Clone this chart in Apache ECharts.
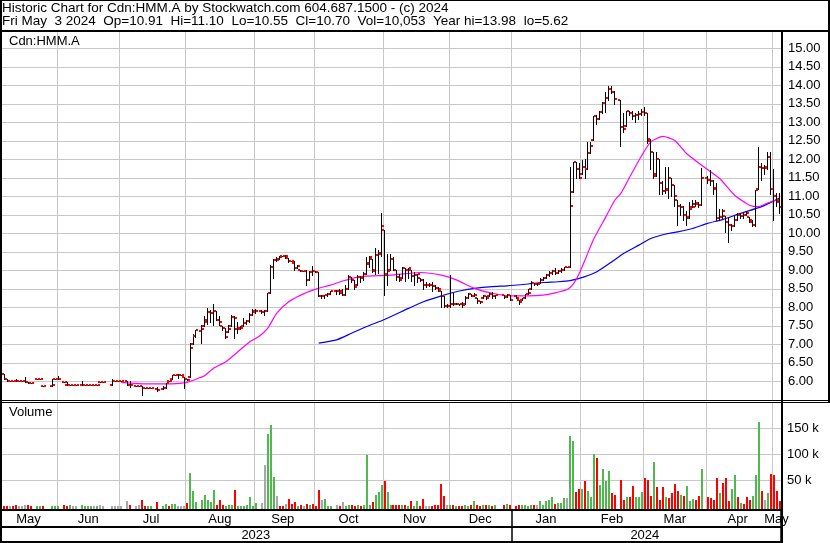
<!DOCTYPE html>
<html>
<head>
<meta charset="utf-8">
<title>Historic Chart for Cdn:HMM.A</title>
<script src="https://cdn.jsdelivr.net/npm/echarts@6/dist/echarts.min.js"></script>
<style>
  html, body { margin: 0; padding: 0; background: #fff; }
  #chart { width: 830px; height: 543px; }
</style>
</head>
<body>
<div id="chart"></div>
<script>
// daily bars [open, high, low, close], one slot per weekday, null = no trade / holiday
const may23 = [[6.20,6.20,6.20,6.20],[6.20,6.20,6.05,6.05],[6.05,6.05,6.02,6.02],[6.02,6.02,6.02,6.02],[6.02,6.02,6.00,6.00],
  [6.00,6.05,6.00,6.00],[6.00,6.00,6.00,6.00],[6.00,6.00,6.00,6.00],[6.00,6.13,5.97,5.97],[5.97,5.97,5.95,5.95],
  [5.95,5.95,5.95,5.95],null,[6.05,6.05,6.05,6.05],[6.05,6.05,6.05,6.05],[5.86,5.86,5.86,5.86],
  null,null,[5.86,6.05,5.86,5.90],[6.05,6.05,6.05,6.05]]
const jun23 = [[6.05,6.15,6.05,6.05],null,[5.97,5.97,5.97,5.97],[5.89,5.97,5.89,5.89],[5.89,5.89,5.89,5.89],
  [5.89,5.89,5.89,5.89],[5.89,5.89,5.89,5.89],null,[5.89,6.00,5.89,5.90],[5.90,5.90,5.90,5.90],
  [5.90,5.90,5.90,5.90],[5.90,5.90,5.90,5.90],[5.90,5.90,5.90,5.90],[5.90,5.90,5.90,5.90],[5.97,5.97,5.97,5.97],
  [5.97,5.97,5.97,5.97],null,null,[5.90,6.05,5.90,6.00],[6.00,6.00,6.00,6.00],
  [6.00,6.00,6.00,6.00],[6.00,6.00,6.00,6.00]]
const jul23 = [null,[6.00,6.00,5.90,5.90],[5.90,6.00,5.85,5.90],null,[5.88,5.88,5.88,5.88],
  [5.88,5.88,5.88,5.88],[5.88,5.88,5.62,5.82],[5.82,5.82,5.82,5.82],[5.82,5.82,5.82,5.82],[5.82,5.82,5.82,5.82],
  null,[5.78,5.85,5.75,5.77],null,[5.80,5.87,5.80,5.82],[5.82,5.95,5.82,5.95],
  [6.00,6.00,6.00,6.00],[6.05,6.17,6.05,6.17],[6.17,6.17,6.17,6.17],[6.17,6.20,6.10,6.17],[6.17,6.17,6.17,6.17],
  [6.13,6.13,5.83,6.05]]
const aug23 = [[6.05,6.05,6.04,6.04],[6.12,7.04,6.12,6.90],[7.00,7.28,7.00,7.23],[7.23,7.39,7.20,7.39],null,
  [7.36,7.52,7.04,7.42],[7.50,7.76,7.50,7.66],[7.60,7.98,7.54,7.88],[7.88,7.93,7.60,7.85],[7.85,8.09,7.53,7.90],
  [7.90,7.90,7.66,7.66],[7.66,7.76,7.53,7.60],[7.50,7.50,7.40,7.44],[7.44,7.45,7.17,7.20],[7.33,7.52,7.33,7.42],
  [7.50,7.79,7.50,7.74],[7.74,7.77,7.17,7.70],[7.42,7.60,7.30,7.42],[7.45,7.50,7.42,7.45],[7.50,7.70,7.50,7.58],
  [7.58,7.66,7.55,7.62],[7.62,7.84,7.60,7.80],[7.80,7.95,7.80,7.91]]
const sep23 = [[7.88,7.95,7.85,7.90],null,[7.90,7.92,7.85,7.88],[7.88,7.92,7.80,7.90],[7.90,8.39,7.90,8.39],
  [8.39,9.14,8.39,9.10],[9.10,9.30,8.80,9.28],[9.28,9.35,9.25,9.28],[9.30,9.40,9.30,9.37],[9.38,9.38,9.38,9.38],
  [9.38,9.42,9.33,9.38],[9.33,9.33,9.22,9.25],[9.25,9.25,9.25,9.25],[9.20,9.25,9.00,9.06],[9.06,9.15,9.06,9.12],
  [9.00,9.00,8.99,8.99],[8.99,8.99,8.99,8.99],[8.99,9.00,8.60,8.74],[8.74,8.97,8.74,8.95],[8.95,9.12,8.87,8.99],
  [8.99,8.99,8.95,8.95]]
const oct23 = [[8.95,8.95,8.30,8.30],[8.30,8.32,8.25,8.30],[8.30,8.32,8.24,8.32],[8.32,8.40,8.30,8.35],[8.35,8.45,8.35,8.43],
  null,[8.43,8.48,8.37,8.43],[8.43,8.50,8.35,8.40],[8.45,8.50,8.33,8.33],[8.33,8.60,8.33,8.50],
  [8.50,8.87,8.50,8.81],[8.81,8.81,8.68,8.73],[8.73,8.73,8.50,8.55],[8.60,8.87,8.60,8.81],[8.81,8.85,8.68,8.78],
  [8.81,8.95,8.75,8.91],[8.91,9.35,8.90,9.16],[9.20,9.40,9.10,9.35],[9.30,9.30,8.95,8.97],[9.00,9.60,8.90,9.41],
  [9.41,9.55,8.92,9.45],[9.46,10.55,9.40,10.19]]
const nov23 = [[10.10,10.10,8.33,8.87],[8.90,9.45,8.60,8.98],[9.00,9.45,9.00,9.30],[9.30,9.37,9.00,9.00],[9.00,9.00,8.75,8.82],
  [8.82,8.90,8.70,8.75],[8.80,9.10,8.80,9.05],[9.05,9.07,8.70,9.00],[9.00,9.05,8.80,9.05],[9.00,9.00,8.70,8.84],
  [8.84,8.95,8.60,8.88],[8.88,8.90,8.68,8.90],[8.80,8.80,8.70,8.73],[8.73,8.77,8.50,8.61],[8.61,8.68,8.55,8.61],
  [8.61,8.66,8.58,8.61],[8.61,8.68,8.45,8.57],[8.57,8.60,8.50,8.53],[8.53,8.55,8.45,8.50],[8.45,8.45,8.00,8.30],
  [8.30,8.30,8.00,8.04],[8.04,8.10,8.00,8.04]]
const dec23 = [[8.04,8.87,8.00,8.10],[8.10,8.40,8.05,8.08],[8.08,8.12,8.08,8.10],[8.10,8.10,8.06,8.08],[8.08,8.15,8.00,8.05],
  [8.10,8.30,8.10,8.25],[8.25,8.40,8.25,8.37],[8.37,8.37,8.30,8.30],[8.30,8.40,8.30,8.33],[8.25,8.25,8.12,8.17],
  [8.17,8.17,8.12,8.15],[8.25,8.33,8.25,8.30],[8.30,8.30,8.22,8.25],[8.30,8.40,8.30,8.37],[8.37,8.42,8.25,8.30],
  [8.30,8.33,8.25,8.32],null,null,[8.32,8.32,8.25,8.28],[8.28,8.35,8.28,8.33],
  [8.33,8.33,8.20,8.20]]
const jan24 = [null,[8.30,8.33,8.25,8.25],[8.20,8.20,8.10,8.13],[8.20,8.25,8.20,8.25],[8.25,8.37,8.25,8.37],
  [8.37,8.50,8.35,8.40],[8.50,8.70,8.50,8.66],[8.66,8.66,8.60,8.63],[8.63,8.66,8.60,8.63],[8.66,8.80,8.66,8.73],
  [8.75,8.82,8.75,8.80],[8.80,8.90,8.80,8.86],[8.86,8.97,8.85,8.93],[8.93,9.00,8.90,8.97],[8.97,9.05,8.90,8.93],
  [8.93,9.00,8.93,8.97],[8.97,9.05,8.95,9.02],[9.02,9.10,9.00,9.08],[9.08,9.10,9.08,9.08],[9.10,11.80,9.10,10.75],
  [11.12,11.93,11.12,11.93],[11.93,11.93,11.50,11.75],[11.75,11.90,11.50,11.50]]
const feb24 = [[11.60,11.98,11.60,11.80],[11.80,12.00,11.50,11.75],[11.75,12.47,11.75,12.16],[12.16,12.47,12.16,12.36],[12.53,13.16,12.53,13.16],
  [13.16,13.20,12.95,13.10],[13.10,13.30,13.10,13.27],[13.27,13.55,13.25,13.52],[13.52,13.82,13.28,13.65],[13.65,13.98,13.60,13.90],
  [13.90,13.98,13.80,13.82],[13.82,13.85,13.50,13.62],null,[13.60,13.60,12.35,12.88],[12.88,13.25,12.75,12.83],
  [12.90,13.30,12.90,13.30],[13.30,13.30,13.20,13.25],[13.25,13.30,13.10,13.17],[13.17,13.25,13.00,13.20],[13.20,13.30,13.10,13.23],
  [13.23,13.35,13.20,13.27]]
const mar24 = [[13.27,13.40,13.20,13.25],[13.25,13.25,12.45,12.56],[12.50,12.55,11.73,12.20],[12.20,12.20,11.50,11.55],[11.60,12.20,11.55,12.00],
  [12.00,12.00,11.05,11.35],[11.35,11.40,11.05,11.13],[11.13,11.80,11.10,11.17],[11.20,11.78,10.95,11.50],[11.50,11.50,11.00,11.30],
  [11.30,11.30,10.75,11.00],[10.90,10.90,10.23,10.74],[10.74,10.80,10.50,10.72],[10.70,10.75,10.35,10.50],[10.50,10.60,10.23,10.41],
  [10.45,10.85,10.40,10.67],[10.70,10.90,10.70,10.70],[10.80,10.90,10.75,10.82],[10.80,10.85,10.72,10.76],[10.76,11.77,10.76,11.50],
  null]
const apr24 = [[11.50,11.55,11.35,11.45],[11.45,11.70,11.30,11.40],[11.40,11.45,11.05,11.22],[11.20,11.35,10.35,10.42],[10.42,10.65,10.35,10.45],
  [10.45,10.65,10.40,10.61],[10.46,10.46,10.04,10.31],[10.30,10.40,9.77,10.22],[10.22,10.25,10.10,10.19],[10.20,10.46,10.20,10.37],
  [10.37,10.55,10.35,10.49],[10.49,10.55,10.40,10.46],[10.46,10.55,10.42,10.49],[10.50,10.60,10.50,10.55],[10.45,10.45,10.30,10.37],
  [10.30,10.35,10.20,10.22],[10.22,11.16,10.20,11.16],[11.20,12.34,11.20,11.78],[11.78,11.90,11.45,11.76],[11.76,11.85,11.60,11.76],
  [11.80,12.20,11.75,12.07],[12.07,12.20,11.07,11.20]]
const may24 = [[11.20,11.75,10.35,11.00],[11.00,11.10,10.75,10.84],[10.91,11.10,10.55,10.70]]

// volume in thousands of shares, same slots
const volK = [
  1,1,0.5,0.3,0.5, 2,0.3,0.3,2,2, 1,null,1,1,0.5, null,null,0.5,0.5,
  0.5,null,2,1,3, 0.5,0.5,null,3,0.5, 0.5,0.5,0.5,0.5,2, 1,null,null,1,1, 1,0.3,
  null,10,3,null,1, 2,12,0.5,0.5,0.5, null,8,null,1,4, 1,4,4,0.5,0.5, 0.5,
  6,63,29,8,null, 12,21,12,8.5,31, 3,12,3,1,3, 2,31,1,1,1, 2,18,1,
  7,null,7,79,139, 156,57,19,1,1, 5,14,4,8,1, 2,1,4,3,4, 1,
  31,12,14,0.5,1, null,2,1,8,1, 2,1.5,1,2,1, 2,98,3,8,21, 27,41,
  48,27,3,1.5,2, 1.5,3,3,1,10, 1,10,1,14,1, 1,1,1.5,1.5,43, 19,3,
  2,1.5,0.5,1,1, 1.5,1,1.5,10,1.5, 1,2,1.5,3,1, 2,null,null,2,4, 3,
  null,1,2,1.5,3, 1,3,3,2,10, 3,10,11,18,4, 6,6,15,15,135, 125,28,33,
  33,48,30,18,100, 93,40,71,48,68, 26,21,null,50,12, 18,17,39,18,18, 28,
  55,50,20,86,36, 12,37,18,15,26, 43,30,22,20,38, 10,13,12,20,72, null,
  18,15,12,55,26, 45,55,9,33,60, 18,7,5,18,12, 20,60,162,30,12, 26,62,
  60,30,10.053
]
// volume bar colour: g = up, r = down, n = unchanged, - = none
const volDir =
  'rrrnrrnnnrr-ggr--gg' +
  'g-rrgnn-ggggngnn--nnnn' +
  '-nr-nnrrgg-r-ggrggnnn' +
  'rggg-gggggrrrgggrgggggg' +
  'g-nngggnrrnrrrgrnrgrr' +
  'rnggg-nrnggrrgrgggrggg' +
  'rggrrrgrgrggrrnnrrrrrn' +
  'grgrrggrgrrgrgrg--rgr' +
  '-rrggggrngggggrgggnggrr' +
  'grgggrggggrr-rrgrrggg' +
  'rrrgrrrgrrrrgrgggrrg-' +
  'rrrrgrrrggrgrrrgggrngr' +
  'rrr'

// moving averages: [slot, value]
const maPink = [[40,5.97],[48,5.93],[57,5.93],[62,5.97],[66,6.09],[68,6.16],[71,6.36],[75,6.53],[79,6.80],[83,7.07],
  [86,7.21],[89,7.44],[92,7.84],[96,8.15],[100,8.33],[105,8.49],[110,8.60],[114,8.71],[120,8.83],[130,8.87],
  [140,8.94],[147,8.87],[152,8.74],[158,8.51],[164,8.38],[171,8.31],[176,8.31],[181,8.33],[185,8.39],[189,8.48],
  [191,8.62],[193,8.90],[195,9.28],[198,9.86],[202,10.45],[205,10.90],[207,11.08],[210,11.53],[214,12.11],[217,12.47],
  [221,12.62],[225,12.51],[229,12.15],[234,11.84],[240,11.48],[245,11.03],[250,10.76],[253,10.72],[256,10.82],[260,10.92]]
const maBlue = [[106,7.03],[112,7.12],[117,7.30],[122,7.48],[128,7.67],[136,7.97],[141,8.15],[147,8.31],[153,8.44],[158,8.51],
  [164,8.56],[169,8.58],[176,8.63],[181,8.67],[186,8.69],[190,8.72],[195,8.83],[199,8.96],[204,9.23],[208,9.46],
  [213,9.68],[217,9.86],[222,9.98],[226,10.04],[231,10.13],[236,10.27],[241,10.37],[247,10.54],[254,10.72],[260,10.95]]

const priceTicks = [6, 6.5, 7, 7.5, 8, 8.5, 9, 9.5, 10, 10.5, 11, 11.5, 12, 12.5, 13, 13.5, 14, 14.5, 15]
const volTicks = [50000, 100000, 150000]
const monthNames = ['Jan','Feb','Mar','Apr','May','Jun','Jul','Aug','Sep','Oct','Nov','Dec']

// weekday slots from May 5 2023 to May 3 2024
const dates = []
for (let t = Date.UTC(2023, 4, 5); t <= Date.UTC(2024, 4, 3); t += 86400000) {
  const d = new Date(t)
  if (d.getUTCDay() !== 0 && d.getUTCDay() !== 6) dates.push(d.toISOString().slice(0, 10))
}

const ohlc = [].concat(may23, jun23, jul23, aug23, sep23, oct23, nov23, dec23, jan24, feb24, mar24, apr24, may24)
const priceData = []
ohlc.forEach((b, i) => { if (b) priceData.push([i, b[0], b[1], b[2], b[3]]) })
const dirCode = { g: 0, r: 1, n: 2 }
const volData = []
volK.forEach((v, i) => { if (v != null) volData.push([i, v * 1000, dirCode[volDir[i]]]) })

// month / year boundaries (a month starting on a weekend gets its line before the Friday)
const monthLines = [0]
const yearLines = [0]
for (let i = 1; i < dates.length; i++) {
  if (dates[i].slice(5, 7) !== dates[i - 1].slice(5, 7)) {
    monthLines.push(+dates[i].slice(8, 10) > 1 ? i - 1 : i)
  }
  if (dates[i].slice(0, 4) !== dates[i - 1].slice(0, 4)) yearLines.push(i)
}
const monthLabel = {}
monthLines.concat([dates.length]).forEach((b, k, arr) => {
  if (k === 0) return
  const idx = Math.floor((arr[k - 1] + b - 1) / 2)
  monthLabel[idx] = monthNames[+dates[idx].slice(5, 7) - 1]
})
const yearLabel = {}
yearLines.concat([dates.length]).forEach((b, k, arr) => {
  if (k === 0) return
  const idx = Math.floor((arr[k - 1] + b - 1) / 2)
  yearLabel[idx] = dates[idx].slice(0, 4)
})
const monthSet = new Set(monthLines)
const yearSet = new Set(yearLines)

const font = '"Liberation Sans", Arial, sans-serif'
const gridColor = '#c8c8c8'
const volColors = ['#4fb84f', '#ff0000', '#a8a8a8']

function renderBar(params, api) {
  const i = api.value(0)
  const pO = api.coord([i, api.value(1)])
  const pH = api.coord([i, api.value(2)])
  const pL = api.coord([i, api.value(3)])
  const pC = api.coord([i, api.value(4)])
  const x = Math.round(pH[0] - 0.5)
  const yH = Math.round(pH[1])
  const yL = Math.round(pL[1])
  return {
    type: 'group',
    children: [
      { type: 'rect', shape: { x: x, y: yH, width: 1, height: Math.max(1, yL - yH + 1) }, style: { fill: '#000' } },
      { type: 'rect', shape: { x: x - 2, y: Math.round(pO[1]) - 1, width: 2, height: 2 }, style: { fill: '#ff0000' } },
      { type: 'rect', shape: { x: x + 1, y: Math.round(pC[1]) - 1, width: 2, height: 2 }, style: { fill: '#ff0000' } }
    ]
  }
}

function renderVol(params, api) {
  const i = api.value(0)
  const top = api.coord([i, api.value(1)])
  const base = params.coordSys.y + params.coordSys.height - 1
  const y = Math.min(Math.round(top[1]), base - 1)
  return {
    type: 'rect',
    shape: { x: Math.round(top[0] - 1), y: y, width: 2, height: base - y },
    style: { fill: volColors[api.value(2)] }
  }
}

const chart = echarts.init(document.getElementById('chart'), null, { renderer: 'canvas' })

const hline = (x, y, w, h) => ({ type: 'rect', z: 100, shape: { x: x, y: y, width: w, height: h }, style: { fill: '#000' } })

const option = {
  animation: false,
  backgroundColor: '#fff',
  textStyle: { fontFamily: font },
  grid: [
    { left: 0, width: 781, top: 32, height: 368 },
    { left: 0, width: 781, top: 403, height: 107 }
  ],
  xAxis: [
    {
      type: 'category', gridIndex: 0, data: dates, boundaryGap: true,
      axisLine: { show: false }, axisTick: { show: false }, axisLabel: { show: false },
      splitLine: { show: true, interval: (i) => monthSet.has(i), lineStyle: { color: gridColor, width: 1 } }
    },
    {
      type: 'category', gridIndex: 1, data: dates, boundaryGap: true, position: 'bottom',
      axisLine: { show: false }, axisTick: { show: false },
      axisLabel: {
        interval: (i) => monthLabel[i] !== undefined,
        formatter: (v, i) => monthLabel[i] || '',
        color: '#000', fontSize: 13, fontFamily: font, margin: 3
      },
      splitLine: { show: true, interval: (i) => monthSet.has(i), lineStyle: { color: gridColor, width: 1 } }
    },
    {
      type: 'category', gridIndex: 1, data: dates, boundaryGap: true, position: 'bottom', offset: 0,
      axisLine: { show: false },
      axisTick: { show: true, interval: (i) => yearSet.has(i), length: 32, lineStyle: { color: '#000', width: 1.5 } },
      axisLabel: {
        interval: (i) => yearLabel[i] !== undefined,
        formatter: (v, i) => yearLabel[i] || '',
        color: '#000', fontSize: 13, fontFamily: font, margin: 19
      },
      splitLine: { show: false }
    }
  ],
  yAxis: [
    {
      type: 'value', gridIndex: 0, position: 'right', min: 5.495, max: 15.44,
      axisLine: { show: false },
      axisTick: { show: false, customValues: priceTicks },
      axisLabel: { customValues: priceTicks, formatter: (v) => v.toFixed(2), color: '#000', fontSize: 13, fontFamily: font, margin: 7 },
      splitLine: { show: true, lineStyle: { color: gridColor, width: 1 } }
    },
    {
      type: 'value', gridIndex: 1, position: 'right', min: -7418, max: 198748,
      axisLine: { show: false },
      axisTick: { show: false, customValues: volTicks },
      axisLabel: { customValues: volTicks, formatter: (v) => (v / 1000) + ' k', color: '#000', fontSize: 13, fontFamily: font, margin: 6 },
      splitLine: { show: true, lineStyle: { color: gridColor, width: 1 } }
    }
  ],
  series: [
    {
      type: 'line', xAxisIndex: 0, yAxisIndex: 0, data: maBlue, showSymbol: false, smooth: 0.2, z: 3,
      lineStyle: { color: '#0000ff', width: 1.2 }, silent: true
    },
    {
      type: 'line', xAxisIndex: 0, yAxisIndex: 0, data: maPink, showSymbol: false, smooth: 0.2, z: 3,
      lineStyle: { color: '#ff00ff', width: 1.2 }, silent: true
    },
    {
      type: 'custom', xAxisIndex: 0, yAxisIndex: 0, data: priceData, renderItem: renderBar, z: 4,
      encode: { x: 0, y: [1, 2, 3, 4] }, silent: true
    },
    {
      type: 'custom', xAxisIndex: 1, yAxisIndex: 1, data: volData, renderItem: renderVol, z: 4,
      encode: { x: 0, y: 1 }, silent: true
    }
  ],
  graphic: [
    { type: 'text', z: 100, left: 2, top: 1, style: { text: 'Historic Chart for Cdn:HMM.A by Stockwatch.com 604.687.1500 - (c) 2024', font: '13.5px ' + font, fill: '#000' } },
    { type: 'text', z: 100, left: 2, top: 14, style: { text: 'Fri May  3 2024  Op=10.91  Hi=11.10  Lo=10.55  Cl=10.70  Vol=10,053  Year hi=13.98  lo=5.62', font: '13.5px ' + font, fill: '#000' } },
    { type: 'text', z: 100, left: 9, top: 35, style: { text: 'Cdn:HMM.A', font: '13px ' + font, fill: '#000' } },
    { type: 'text', z: 100, left: 9, top: 406, style: { text: 'Volume', font: '13px ' + font, fill: '#000' } },
    hline(0, 0, 830, 1),
    hline(0, 30, 830, 2),
    hline(0, 400, 830, 1),
    hline(0, 402, 830, 1),
    hline(0, 509, 783, 2),
    hline(0, 526, 783, 2),
    hline(0, 541, 783, 2),
    hline(0, 0, 2, 543),
    hline(781, 30, 2, 513),
    hline(828, 0, 2, 403)
  ]
}

chart.setOption(option)
</script>
</body>
</html>
